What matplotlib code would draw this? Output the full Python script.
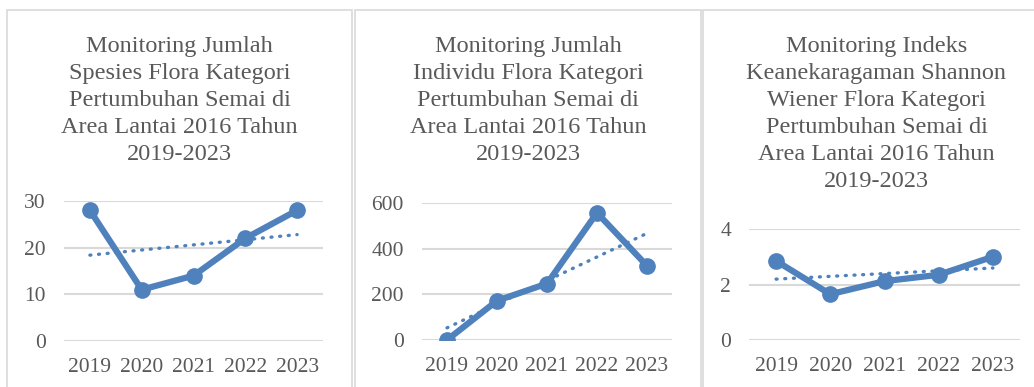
import matplotlib
matplotlib.use("Agg")
import matplotlib.pyplot as plt
import numpy as np
from matplotlib.patches import Rectangle

years = ["2019", "2020", "2021", "2022", "2023"]
jumlah_spesies = [28, 11, 14, 22, 28]
jumlah_individu = [0, 172, 247, 557, 325]
indeks_shannon = [2.85, 1.65, 2.12, 2.35, 3.0]

titles = [
    "Monitoring Jumlah\nSpesies Flora Kategori\nPertumbuhan Semai di\nArea Lantai 2016 Tahun\n2019-2023",
    "Monitoring Jumlah\nIndividu Flora Kategori\nPertumbuhan Semai di\nArea Lantai 2016 Tahun\n2019-2023",
    "Monitoring Indeks\nKeanekaragaman Shannon\nWiener Flora Kategori\nPertumbuhan Semai di\nArea Lantai 2016 Tahun\n2019-2023",
]
y_ticks = [[0, 10, 20, 30], [0, 200, 400, 600], [0, 2, 4]]

BLUE = "#4f81bd"
TEXT = "#595959"
GRID = "#d9d9d9"

plt.rcParams["font.family"] = ["Liberation Serif", "DejaVu Serif"]

W, H = 1034, 387
fig = plt.figure(figsize=(W / 100, H / 100), dpi=100)

# panel frames (pixels: left, right), top edge at y=10
frames = [(7, 352), (355, 701), (703, 1050)]
for x0, x1 in frames:
    fig.patches.append(Rectangle((x0 / W, -0.1), (x1 - x0) / W, (H - 10) / H + 0.1,
                                 transform=fig.transFigure, fill=False,
                                 edgecolor=GRID, linewidth=1.2))

# axes boxes in pixels: left, right, top, bottom
boxes = [(64, 323, 201, 341), (422, 672, 203, 340), (749, 1020, 229, 340)]
series = [jumlah_spesies, jumlah_individu, indeks_shannon]

for (x0, x1, yt, yb), vals, ticks, title, (f0, f1) in zip(boxes, series, y_ticks, titles, frames):
    ax = fig.add_axes([x0 / W, (H - yb) / H, (x1 - x0) / W, (yb - yt) / H])
    x = np.arange(len(years))
    ax.plot(x, vals, color=BLUE, linewidth=4.5, marker="o", markersize=11,
            solid_capstyle="round", zorder=3)
    # linear trendline
    k, b = np.polyfit(x, vals, 1)
    ax.plot(x, k * x + b, color=BLUE, linewidth=2.4, linestyle=(0, (0.3, 2.3)),
            dash_capstyle="round", zorder=2)
    ax.set_xlim(-0.5, len(years) - 0.5)
    ax.set_ylim(ticks[0], ticks[-1])
    ax.set_yticks(ticks)
    ax.set_xticks(x)
    ax.set_xticklabels(years)
    ax.yaxis.grid(True, color=GRID, linewidth=1.5)
    ax.set_axisbelow(True)
    for s in ax.spines.values():
        s.set_visible(False)
    ax.tick_params(axis="both", length=0, labelsize=15.5, colors=TEXT)
    ax.tick_params(axis="y", pad=13)
    ax.tick_params(axis="x", pad=12)
    ax.patch.set_alpha(0)

    fig.text((f0 + f1) / 2 / W, (H - 36) / H, title, ha="center", va="top",
             fontsize=17.5, color=TEXT, linespacing=1.37)

fig.savefig("out.png", dpi=100)
